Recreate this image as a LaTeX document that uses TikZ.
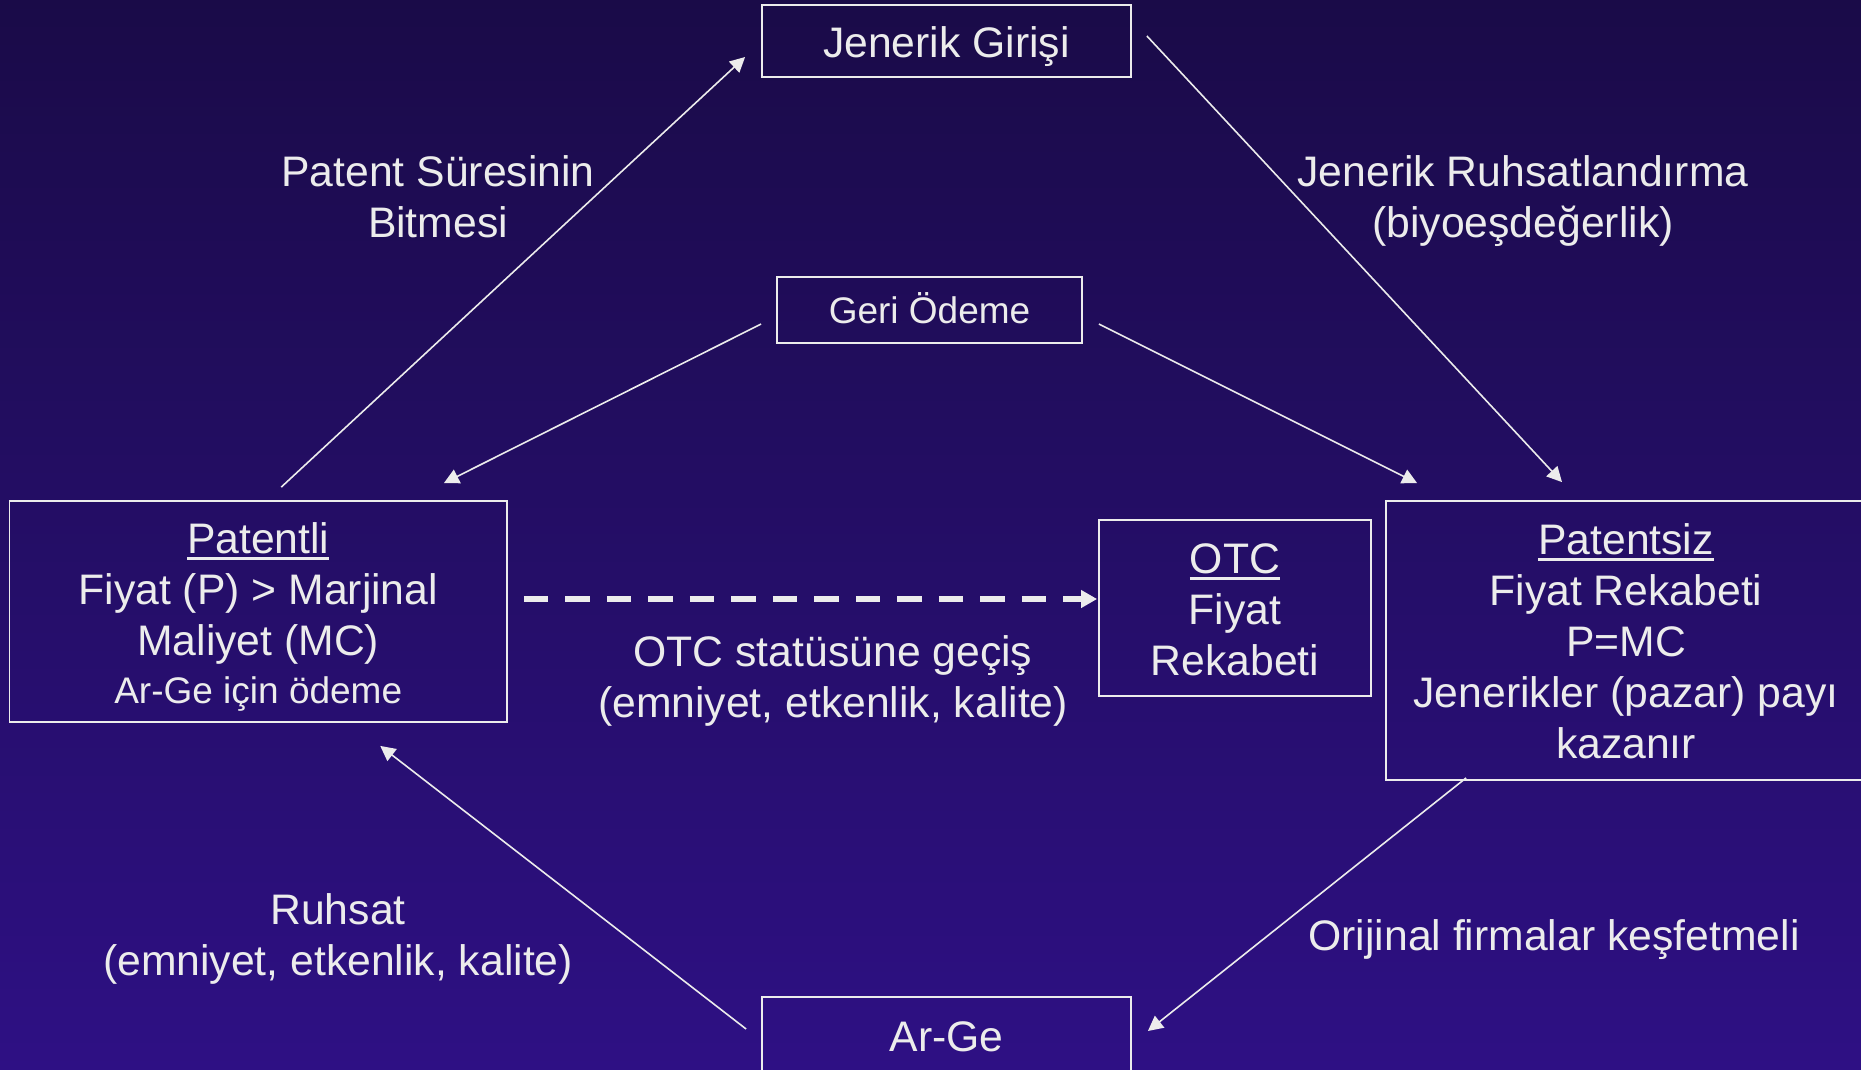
\documentclass[tikz,border=0pt]{standalone}
\usepackage{fontspec}
\setmainfont{Liberation Sans}
\usetikzlibrary{arrows.meta}
\definecolor{bgtop}{RGB}{26,11,72}
\definecolor{bgbot}{RGB}{46,16,132}
\definecolor{fg}{RGB}{236,236,236}
\newcommand\mystr{\rule[-0.22em]{0pt}{1.19em}}
\newcommand\myul[1]{\setbox0\hbox{#1}\rlap{\rule[-6.5pt]{\wd0}{3pt}}#1}
\begin{document}
\begin{tikzpicture}[x=1pt,y=-1pt,
  box/.style={draw=fg, line width=1.8pt, inner sep=0pt, text=fg, align=center,
    font=\fontsize{42.7}{51}\selectfont},
  lbl/.style={text=fg, align=center, inner sep=0pt, font=\fontsize{42.7}{51}\selectfont},
  conn/.style={draw=fg, line width=1.6pt, -{Triangle[length=15pt,width=15pt]}},
  dashconn/.style={draw=fg, line width=6.5pt, dash pattern=on 24.5pt off 17pt,
    -{Triangle[length=16pt,width=17pt]}},
]
\useasboundingbox (0,0) rectangle (1861,1069);
\clip (0,0) rectangle (1861,1069);
\fill[top color=bgtop, bottom color=bgbot] (0,0) rectangle (1861,1069);

% boxes
\node[box, minimum width=369pt, minimum height=72pt] (jen) at (946.5,41) {\mystr Jenerik Girişi};
\node[box, minimum width=305pt, minimum height=66pt, font=\fontsize{37}{45}\selectfont] (geri) at (929.5,310) {\mystr Geri Ödeme};
\node[box, minimum width=497.5pt, minimum height=221pt] (pat) at (258.25,611.5)
  {\mystr\myul{Patentli}\\ \mystr Fiyat (P) > Marjinal\\ \mystr Maliyet (MC)\\[-3pt] \fontsize{37}{45}\selectfont\mystr Ar-Ge için ödeme};
\node[box, minimum width=272pt, minimum height=176pt] (otc) at (1235,608)
  {\mystr\myul{OTC}\\ \mystr Fiyat\\ \mystr Rekabeti};
\node[box, minimum width=480pt, minimum height=279pt] (pz) at (1626,640.5)
  {\mystr\myul{Patentsiz}\\ \mystr Fiyat Rekabeti\\ \mystr P=MC\\ \mystr Jenerikler (pazar) payı\\ \mystr kazanır};
\node[box, minimum width=369pt, minimum height=76pt] (arge) at (946.5,1035) {\mystr Ar-Ge};

% labels
\node[lbl] (l1) at (438,195.5) {\mystr Patent Süresinin\\ \mystr Bitmesi};
\node[lbl] (l2) at (1523,195.5) {\mystr Jenerik Ruhsatlandırma\\ \mystr (biyoeşdeğerlik)};
\node[lbl] (l3) at (833,675.5) {\mystr OTC statüsüne geçiş\\ \mystr (emniyet, etkenlik, kalite)};
\node[lbl] (l4) at (338,933.5) {\mystr Ruhsat\\ \mystr (emniyet, etkenlik, kalite)};
\node[lbl] (l5) at (1554,934) {\mystr Orijinal firmalar keşfetmeli};

% connector ends
\coordinate (a1) at ([shift={(23,-13)}]pat.north);
\coordinate (b1) at ([shift={(-16,16)}]jen.west);
\coordinate (a2) at ([shift={(15,-5)}]jen.east);
\coordinate (b2) at ([shift={(-64,-18)}]pz.north);
\coordinate (a3) at ([shift={(-15,14)}]geri.west);
\coordinate (b3) at ([shift={(-64,-17)}]pat.north east);
\coordinate (a4) at ([shift={(16,14)}]geri.east);
\coordinate (b4) at ([shift={(32,-17)}]pz.north west);
\coordinate (a5) at ([shift={(16,-12.5)}]pat.east);
\coordinate (b5) at ([shift={(-1,-9)}]otc.west);
\coordinate (a6) at ([shift={(81,-3)}]pz.south west);
\coordinate (b6) at ([shift={(16,-4)}]arge.east);
\coordinate (a7) at ([shift={(-15,-6)}]arge.west);
\coordinate (b7) at ([shift={(122,23)}]pat.south);

\draw[conn] (a1) -- (b1);
\draw[conn] (a2) -- (b2);
\draw[conn] (a3) -- (b3);
\draw[conn] (a4) -- (b4);
\draw[dashconn] (a5) -- (b5);
\draw[conn] (a6) -- (b6);
\draw[conn] (a7) -- (b7);
\end{tikzpicture}
\end{document}
